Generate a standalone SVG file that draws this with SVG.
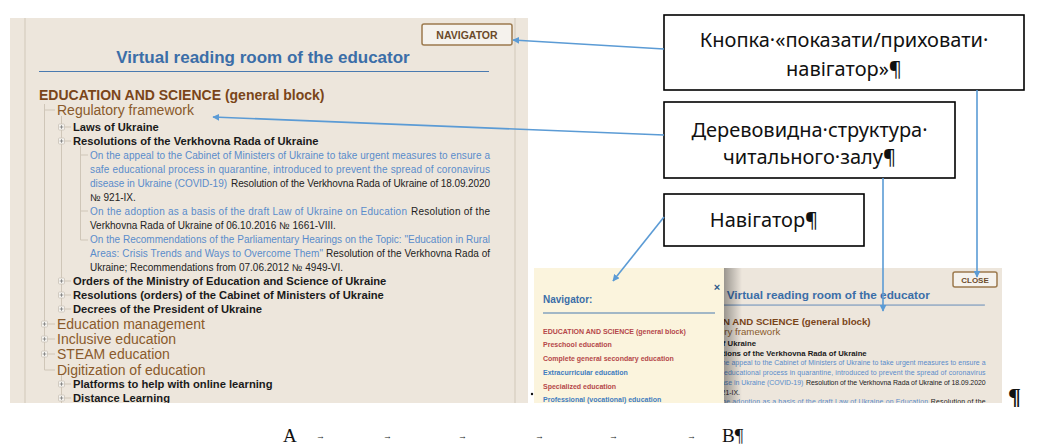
<svg xmlns="http://www.w3.org/2000/svg" width="1048" height="444" viewBox="0 0 1048 444">
<style>
.sans{font-family:"Liberation Sans",Arial,sans-serif}
.title{font-family:"Liberation Sans",Arial,sans-serif;font-weight:bold;font-size:17px;fill:#3b6ea8}
.h1{font-family:"Liberation Sans",Arial,sans-serif;font-weight:bold;font-size:14px;fill:#7a4519}
.h2{font-family:"Liberation Sans",Arial,sans-serif;font-size:14px;fill:#8a5a2b}
.h3{font-family:"Liberation Sans",Arial,sans-serif;font-weight:bold;font-size:11.2px;fill:#1a1a1a}
.lk{font-family:"Liberation Sans",Arial,sans-serif;font-size:10px;fill:#5a8ccb}
.tx{font-family:"Liberation Sans",Arial,sans-serif;font-size:10px;fill:#222}
.tree{stroke:#cfc6b8;stroke-width:1;fill:none}
.btn{fill:#f5f2ed;stroke:#9c7a4e;stroke-width:1.5}
.btntx{font-family:"Liberation Sans",Arial,sans-serif;font-weight:bold;fill:#6b4a2a;text-anchor:middle}
.nav{font-family:"Liberation Sans",Arial,sans-serif;font-weight:bold;font-size:7px}
.red{fill:#b5484a}
.blu{fill:#3f7cbf}
.box{fill:#ffffff;stroke:#000;stroke-width:1.6}
.cap{font-family:"Noto Sans","Liberation Sans",sans-serif;font-size:20px;fill:#111;text-anchor:middle}
.conn{stroke:#5b9bd5;stroke-width:1.6;fill:none;marker-end:url(#ah)}
.ser{font-family:"Liberation Serif","Times New Roman",serif;fill:#111}
.tab{font-family:"Liberation Serif","Times New Roman",serif;fill:#222;font-size:9px;font-weight:bold}
</style>
<defs>
<marker id="ah" viewBox="0 0 10 10" refX="9" refY="5" markerWidth="7" markerHeight="7" markerUnits="userSpaceOnUse" orient="auto"><path d="M0,0 L10,5 L0,10 z" fill="#5b9bd5"/></marker>
<g id="plus"><rect x="-3" y="-3" width="6" height="6" rx="1" fill="#f7f5f1" stroke="#c9c2b8" stroke-width="0.8"/><path d="M-1.8,0 H1.8 M0,-1.8 V1.8" stroke="#777" stroke-width="0.8"/></g>
<clipPath id="clipMain"><rect x="10" y="18" width="518" height="385"/></clipPath>
<clipPath id="clipSs2"><rect x="724" y="268" width="278" height="135"/></clipPath>
<linearGradient id="shadow" x1="0" y1="0" x2="1" y2="0"><stop offset="0" stop-color="#000" stop-opacity="0.35"/><stop offset="1" stop-color="#000" stop-opacity="0"/></linearGradient>
<g id="page-content">
<line x1="25" y1="18" x2="25" y2="403" stroke="#d6cdbf" stroke-width="1.2"/>
<line x1="515" y1="18" x2="515" y2="403" stroke="#d6cdbf" stroke-width="1.2"/>
<text class="title" x="263" y="63" text-anchor="middle">Virtual reading room of the educator</text>
<line x1="39" y1="71.5" x2="489" y2="71.5" stroke="#4a7ab0" stroke-width="1.2"/>
<text class="h1" x="39" y="100">EDUCATION AND SCIENCE (general block)</text>
<path class="tree" d="M44.5,104 V370 M44.5,110 H55 M44.5,324 H55 M44.5,339 H55 M44.5,354 H55 M44.5,370 H55 M61.5,116 V309 M61.5,127 H71 M61.5,141 H71 M61.5,281 H71 M61.5,295 H71 M61.5,309 H71 M61.5,375 V403 M61.5,384 H71 M61.5,398 H71 M80.5,146 V240 M80.5,155 H88 M80.5,211 H88 M80.5,240 H88"/>
<text class="h2" x="57" y="115">Regulatory framework</text>
<use href="#plus" x="61.5" y="127"/>
<text class="h3" x="73" y="131">Laws of Ukraine</text>
<use href="#plus" x="61.5" y="141"/>
<text class="h3" x="73" y="145">Resolutions of the Verkhovna Rada of Ukraine</text>
<text class="lk" x="90" y="158.5" textLength="400" lengthAdjust="spacing">On the appeal to the Cabinet of Ministers of Ukraine to take urgent measures to ensure a</text>
<text class="lk" x="90" y="172.5" textLength="400" lengthAdjust="spacing">safe educational process in quarantine, introduced to prevent the spread of coronavirus</text>
<text class="lk" x="90" y="186.5" textLength="137" lengthAdjust="spacing">disease in Ukraine (COVID-19)</text>
<text class="tx" x="231" y="186.5" textLength="259" lengthAdjust="spacing">Resolution of the Verkhovna Rada of Ukraine of 18.09.2020</text>
<text class="tx" x="90" y="201">№ 921-IX.</text>
<text class="lk" x="90" y="214.5" textLength="317" lengthAdjust="spacing">On the adoption as a basis of the draft Law of Ukraine on Education</text>
<text class="tx" x="411" y="214.5" textLength="79" lengthAdjust="spacing">Resolution of the</text>
<text class="tx" x="90" y="229">Verkhovna Rada of Ukraine of 06.10.2016 № 1661-VIII.</text>
<text class="lk" x="90" y="242.5" textLength="400" lengthAdjust="spacing">On the Recommendations of the Parliamentary Hearings on the Topic: "Education in Rural</text>
<text class="lk" x="90" y="256.5" textLength="233" lengthAdjust="spacing">Areas: Crisis Trends and Ways to Overcome Them"</text>
<text class="tx" x="326" y="256.5" textLength="164" lengthAdjust="spacing">Resolution of the Verkhovna Rada of</text>
<text class="tx" x="90" y="270.5">Ukraine; Recommendations from 07.06.2012 № 4949-VI.</text>
<use href="#plus" x="61.5" y="281"/>
<text class="h3" x="73" y="285">Orders of the Ministry of Education and Science of Ukraine</text>
<use href="#plus" x="61.5" y="295"/>
<text class="h3" x="73" y="299">Resolutions (orders) of the Cabinet of Ministers of Ukraine</text>
<use href="#plus" x="61.5" y="309"/>
<text class="h3" x="73" y="313">Decrees of the President of Ukraine</text>
<use href="#plus" x="44.5" y="324"/>
<text class="h2" x="57" y="329">Education management</text>
<use href="#plus" x="44.5" y="339"/>
<text class="h2" x="57" y="344">Inclusive education</text>
<use href="#plus" x="44.5" y="354"/>
<text class="h2" x="57" y="359">STEAM education</text>
<text class="h2" x="57" y="375">Digitization of education</text>
<use href="#plus" x="61.5" y="384"/>
<text class="h3" x="73" y="388">Platforms to help with online learning</text>
<use href="#plus" x="61.5" y="398"/>
<text class="h3" x="73" y="402">Distance Learning</text>
</g>
</defs>

<g id="screenshot-main">
<rect x="10" y="18" width="518" height="385" fill="#ede6dc"/>
<g clip-path="url(#clipMain)"><use href="#page-content"/></g>
<g id="btn-navigator">
<rect class="btn" x="422" y="24" width="90" height="21" rx="2"/>
<text class="btntx" x="467" y="38.5" font-size="10.5">NAVIGATOR</text>
</g>
</g>

<g id="screenshot-navigator">
<rect x="534" y="268" width="468" height="135" fill="#ede6dc"/>
<g clip-path="url(#clipSs2)"><use href="#page-content" transform="translate(646 255.5) scale(0.693)"/></g>
<rect x="724" y="268" width="18" height="135" fill="url(#shadow)"/>
<rect x="534" y="268" width="190" height="135" fill="#fbf4dd"/>
<text class="sans" x="717" y="291" font-size="11" font-weight="bold" fill="#2d5a8a" text-anchor="middle">×</text>
<text class="sans" x="543" y="303" font-size="10" font-weight="bold" fill="#3b6ea8">Navigator:</text>
<line x1="543" y1="313" x2="715" y2="313" stroke="#4a7ab0" stroke-width="1.2"/>
<text class="nav red" x="543" y="333.5">EDUCATION AND SCIENCE (general block)</text>
<text class="nav red" x="543" y="346.5">Preschool education</text>
<text class="nav red" x="543" y="360.5">Complete general secondary education</text>
<text class="nav blu" x="543" y="374.5">Extracurricular education</text>
<text class="nav red" x="543" y="388.5">Specialized education</text>
<text class="nav blu" x="543" y="401.5">Professional (vocational) education</text>
<g id="btn-close">
<rect class="btn" x="953" y="272" width="44" height="15" rx="2" stroke-width="1.2"/>
<text class="btntx" x="975" y="283" font-size="8">CLOSE</text>
</g>
</g>

<g id="callout-button">
<rect class="box" x="664" y="15" width="360" height="75"/>
<text class="cap" x="844" y="47">Кнопка·«показати/приховати·</text>
<text class="cap" x="844" y="76">навігатор»¶</text>
</g>
<g id="callout-tree">
<rect class="box" x="664" y="102" width="291" height="76"/>
<text class="cap" x="809.5" y="137">Деревовидна·структура·</text>
<text class="cap" x="809.5" y="164">читального·залу¶</text>
</g>
<g id="callout-navigator">
<rect class="box" x="664" y="194" width="200" height="52"/>
<text class="cap" x="764" y="227">Навігатор¶</text>
</g>

<g id="connectors">
<line class="conn" x1="664" y1="49" x2="513" y2="40"/>
<line class="conn" x1="664" y1="135" x2="213" y2="117"/>
<line class="conn" x1="664" y1="217" x2="613" y2="281"/>
<line class="conn" x1="977" y1="90" x2="977" y2="277"/>
<line class="conn" x1="883" y1="178" x2="883" y2="311"/>
</g>

<g id="footer">
<circle cx="532" cy="394" r="1.2" fill="#111"/>
<text class="ser" x="1008" y="404" font-size="24" font-weight="bold">¶</text>
<text class="ser" x="283" y="442" font-size="19">A</text>
<text class="tab" x="316" y="439">→</text>
<text class="tab" x="383" y="439">→</text>
<text class="tab" x="458" y="439">→</text>
<text class="tab" x="535" y="439">→</text>
<text class="tab" x="609" y="439">→</text>
<text class="tab" x="687" y="439">→</text>
<text class="ser" x="722" y="442" font-size="19">B¶</text>
</g>
</svg>
